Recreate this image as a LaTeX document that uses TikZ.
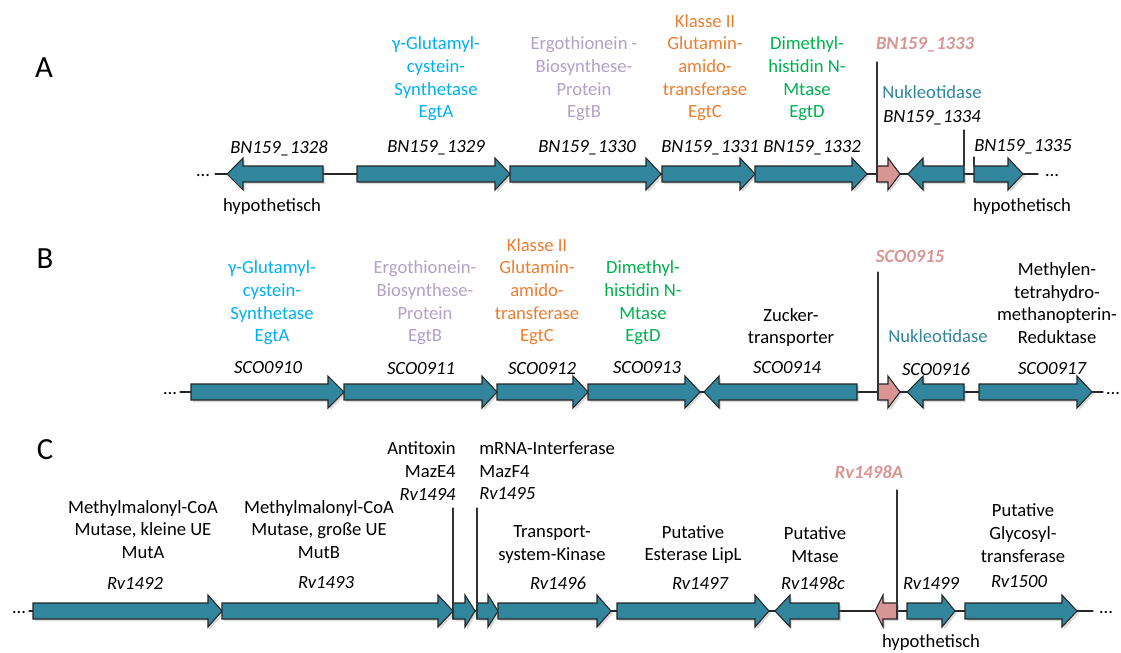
\documentclass[tikz,border=0pt]{standalone}
\usepackage{fontspec}
\setmainfont{Carlito}
\usetikzlibrary{shadows}
\definecolor{genefill}{HTML}{31859C}
\definecolor{pseudofill}{HTML}{D99594}
\definecolor{egtA}{HTML}{00B0F0}
\definecolor{egtB}{HTML}{B2A1C7}
\definecolor{egtC}{HTML}{ED7D31}
\definecolor{egtD}{HTML}{00B050}
\definecolor{nuk}{HTML}{31859C}
\tikzset{
  genebox/.style={draw=black!85, line width=0.6pt, fill=genefill, line join=miter,
    drop shadow={shadow xshift=1.2pt, shadow yshift=-1.2pt, opacity=0.3}},
  pseudobox/.style={genebox, fill=pseudofill},
  lbl/.style={inner sep=0pt, align=center, font=\fontsize{10.6}{12.9}\selectfont},
  tag/.style={lbl, font=\fontsize{10.6}{12.9}\selectfont\itshape},
  pseudotag/.style={lbl, text=pseudofill, font=\fontsize{10.6}{12.9}\selectfont\bfseries\itshape},
  panel/.style={inner sep=0pt, font=\fontsize{17.5}{20}\selectfont},
  dots/.style={inner sep=0pt, anchor=base, font=\fontsize{10.6}{12.9}\selectfont},
  backbone/.style={line width=0.7pt, black!85},
  marker/.style={line width=0.6pt, black!80}
}
% gene arrows: [style] {axis y} {left end} {head base} {tip}
\newcommand{\fwdgene}[5][genebox]{%
  \draw[#1] (#3,#2-8) -- (#4,#2-8) -- (#4,#2-16) -- (#5,#2) -- (#4,#2+16)
    -- (#4,#2+8) -- (#3,#2+8) -- cycle;}
\newcommand{\revgene}[5][genebox]{%
  \draw[#1] (#3,#2-8) -- (#4,#2-8) -- (#4,#2-16) -- (#5,#2) -- (#4,#2+16)
    -- (#4,#2+8) -- (#3,#2+8) -- cycle;}
\begin{document}
\begin{tikzpicture}[x=0.02cm, y=-0.02cm, line cap=round]
  \useasboundingbox (0,0) rectangle (1121,652);
  \node[panel] (pA) at (44,68) {A};
  \node[panel] (pB) at (45,259) {B};
  \node[panel] (pC) at (45,450) {C};

  % ---- A ----
  \coordinate (sA) at (215,174); \coordinate (eA) at (1038,174);
  \node[dots] (dA1) at (203,176) {\ldots};
  \node[dots] (dA2) at (1052,176) {\ldots};
  \draw[backbone] (sA) -- (eA);
  \revgene{174}{323}{243}{227}
  \fwdgene{174}{357}{495}{510}
  \fwdgene{174}{510}{646}{661}
  \fwdgene{174}{662}{740}{755}
  \fwdgene{174}{755}{852}{867}
  \fwdgene[pseudobox]{174}{877}{888}{900}
  \revgene{174}{964}{923}{908}
  \fwdgene{174}{974}{1008}{1023}
  \node[lbl, text=egtA] (fA1) at (436,79) {γ-Glutamyl-\\cystein-\\Synthetase\\EgtA};
  \node[lbl, text=egtB] (fA2) at (584,79) {Ergothionein -\\Biosynthese-\\Protein\\EgtB};
  \node[lbl, text=egtC] (fA3) at (705,67.5) {Klasse II\\Glutamin-\\amido-\\transferase\\EgtC};
  \node[lbl, text=egtD] (fA4) at (807,79) {Dimethyl-\\histidin N-\\Mtase\\EgtD};
  \node[lbl, text=nuk] (fA5) at (932,92) {Nukleotidase};
  \node[tag] (nA1) at (279,148) {BN159\_1328};
  \node[tag] (nA2) at (436,148) {BN159\_1329};
  \node[tag] (nA3) at (587,148) {BN159\_1330};
  \node[tag] (nA4) at (710,148) {BN159\_1331};
  \node[tag] (nA5) at (812,148) {BN159\_1332};
  \node[pseudotag] (nA6) at (925,45) {BN159\_1333};
  \node[tag] (nA7) at (932,118) {BN159\_1334};
  \node[tag] (nA8) at (1023,147) {BN159\_1335};
  \node[lbl] (hA1) at (272,207) {hypothetisch};
  \node[lbl] (hA2) at (1022,207) {hypothetisch};
  \coordinate (tA1) at (877,62);  \coordinate (bA1) at (877,182);
  \coordinate (tA2) at (964,130); \coordinate (bA2) at (964,166);
  \coordinate (tA3) at (974,157); \coordinate (bA3) at (974,166);
  \draw[marker] (tA1) -- (bA1) (tA2) -- (bA2) (tA3) -- (bA3);

  % ---- B ----
  \coordinate (sB) at (180,392); \coordinate (eB) at (1103,392);
  \node[dots] (dB1) at (170,394) {\ldots};
  \node[dots] (dB2) at (1113,394) {\ldots};
  \draw[backbone] (sB) -- (eB);
  \fwdgene{392}{191}{328}{344}
  \fwdgene{392}{344}{482}{497}
  \fwdgene{392}{497}{573}{588}
  \fwdgene{392}{588}{685}{700}
  \revgene{392}{857}{719}{704}
  \fwdgene[pseudobox]{392}{878}{888}{900}
  \revgene{392}{964}{923}{907}
  \fwdgene{392}{979}{1077}{1092}
  \node[lbl, text=egtA] (fB1) at (272,303) {γ-Glutamyl-\\cystein-\\Synthetase\\EgtA};
  \node[lbl, text=egtB] (fB2) at (425,303) {Ergothionein-\\Biosynthese-\\Protein\\EgtB};
  \node[lbl, text=egtC] (fB3) at (537,291.5) {Klasse II\\Glutamin-\\amido-\\transferase\\EgtC};
  \node[lbl, text=egtD] (fB4) at (643,303) {Dimethyl-\\histidin N-\\Mtase\\EgtD};
  \node[lbl] (fB5) at (791,327.5) {Zucker-\\transporter};
  \node[lbl, text=nuk] (fB6) at (938,336) {Nukleotidase};
  \node[lbl] (fB7) at (1057,303) {Methylen-\\tetrahydro-\\methanopterin-\\Reduktase};
  \node[tag] (nB1) at (268,368) {SCO0910};
  \node[tag] (nB2) at (421,369) {SCO0911};
  \node[tag] (nB3) at (542,369) {SCO0912};
  \node[tag] (nB4) at (647,368) {SCO0913};
  \node[tag] (nB5) at (787,368) {SCO0914};
  \node[pseudotag] (nB6) at (910,256) {SCO0915};
  \node[tag] (nB7) at (936,369) {SCO0916};
  \node[tag] (nB8) at (1052,369) {SCO0917};
  \coordinate (tB1) at (878,272); \coordinate (bB1) at (878,400);
  \draw[marker] (tB1) -- (bB1);

  % ---- C ----
  \coordinate (sC) at (29,611); \coordinate (eC) at (1093,611);
  \node[dots] (dC1) at (19,613) {\ldots};
  \node[dots] (dC2) at (1106,613) {\ldots};
  \draw[backbone] (sC) -- (eC);
  \fwdgene{611}{33}{208}{222}
  \fwdgene{611}{222}{438}{453}
  \fwdgene{611}{453}{465}{475}
  \fwdgene{611}{477}{488}{498}
  \fwdgene{611}{498}{597}{611}
  \fwdgene{611}{617}{755}{769}
  \revgene{611}{839}{790}{775}
  \revgene[pseudobox]{611}{897}{883}{875}
  \fwdgene{611}{907}{942}{955}
  \fwdgene{611}{965}{1062}{1077}
  \node[lbl] (fC1) at (143,529.5) {Methylmalonyl-CoA\\Mutase, kleine UE\\MutA};
  \node[lbl] (fC2) at (319,529.5) {Methylmalonyl-CoA\\Mutase, große UE\\MutB};
  \node[lbl, align=right, anchor=east] (fC3) at (456,471) {Antitoxin\\MazE4\\\textit{Rv1494}};
  \node[lbl, align=left, anchor=west] (fC4) at (479,471) {mRNA-Interferase\\MazF4\\\textit{Rv1495}};
  \node[lbl] (fC5) at (552,544.5) {Transport-\\system-Kinase};
  \node[lbl] (fC6) at (693,544.5) {Putative\\Esterase LipL};
  \node[lbl] (fC7) at (815,544.5) {Putative\\Mtase};
  \node[lbl] (fC8) at (1023,533) {Putative\\Glycosyl-\\transferase};
  \node[tag] (nC1) at (135,583) {Rv1492};
  \node[tag] (nC2) at (326,583) {Rv1493};
  \node[tag] (nC3) at (558,583) {Rv1496};
  \node[tag] (nC4) at (700,583) {Rv1497};
  \node[tag] (nC5) at (813,583) {Rv1498c};
  \node[pseudotag] (nC6) at (869,472) {Rv1498A};
  \node[tag] (nC7) at (931,583) {Rv1499};
  \node[tag] (nC8) at (1019,582) {Rv1500};
  \node[lbl] (hC1) at (931,643) {hypothetisch};
  \coordinate (tC1) at (453,508); \coordinate (bC1) at (453,619);
  \coordinate (tC2) at (477,508); \coordinate (bC2) at (477,619);
  \coordinate (tC3) at (897,490); \coordinate (bC3) at (897,619);
  \draw[marker] (tC1) -- (bC1) (tC2) -- (bC2) (tC3) -- (bC3);
\end{tikzpicture}
\end{document}
